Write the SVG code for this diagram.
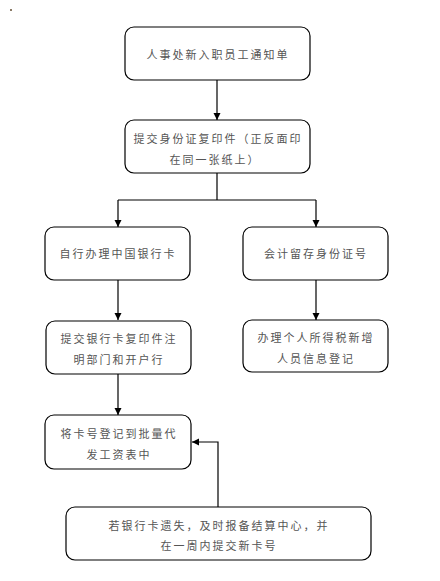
<svg xmlns="http://www.w3.org/2000/svg" width="440" height="581" viewBox="0 0 440 581">
<defs>
<marker id="ah" markerWidth="8" markerHeight="8" refX="7" refY="4" orient="auto" markerUnits="userSpaceOnUse">
<path d="M0,0.5 L7,4 L0,7.5 Z" fill="#000"/>
</marker>
<style>
.box{fill:#fff;stroke:#000;stroke-width:1.2}
.t{font-family:"Noto Sans CJK SC","Noto Sans",sans-serif;font-size:11px;fill:#555;letter-spacing:2px;text-anchor:middle}
.c{fill:none;stroke:#000;stroke-width:1.2}
</style>
</defs>
<rect x="10" y="9" width="2" height="2" fill="#8a7a66"/>
<g id="connectors">
<path class="c" d="M217,80 V120" marker-end="url(#ah)"/>
<path class="c" d="M217,173 V200 M118,200 H316"/>
<path class="c" d="M118,200 V227" marker-end="url(#ah)"/>
<path class="c" d="M316,200 V227" marker-end="url(#ah)"/>
<path class="c" d="M118,280 V320" marker-end="url(#ah)"/>
<path class="c" d="M316,280 V320" marker-end="url(#ah)"/>
<path class="c" d="M118,374 V415" marker-end="url(#ah)"/>
<path class="c" d="M218,507 V442 H192" marker-end="url(#ah)"/>
</g>
<g id="n1">
<rect class="box" x="125" y="27" width="185" height="53" rx="9"/>
<text class="t" x="218" y="59">人事处新入职员工通知单</text>
</g>
<g id="n2">
<rect class="box" x="125" y="120" width="185" height="53" rx="9"/>
<text class="t" x="218" y="143">提交身份证复印件（正反面印</text>
<text class="t" x="215" y="164">在同一张纸上）</text>
</g>
<g id="n3">
<rect class="box" x="45" y="227" width="145" height="53" rx="9"/>
<text class="t" x="118" y="258">自行办理中国银行卡</text>
</g>
<g id="n4">
<rect class="box" x="243" y="227" width="145" height="53" rx="9"/>
<text class="t" x="316" y="258">会计留存身份证号</text>
</g>
<g id="n5">
<rect class="box" x="46" y="321" width="145" height="53" rx="9"/>
<text class="t" x="119" y="343">提交银行卡复印件注</text>
<text class="t" x="119" y="364">明部门和开户行</text>
</g>
<g id="n6">
<rect class="box" x="243" y="320" width="145" height="52" rx="9"/>
<text class="t" x="316" y="342">办理个人所得税新增</text>
<text class="t" x="316" y="363">人员信息登记</text>
</g>
<g id="n7">
<rect class="box" x="45" y="415" width="146" height="54" rx="9"/>
<text class="t" x="119" y="438">将卡号登记到批量代</text>
<text class="t" x="119" y="459">发工资表中</text>
</g>
<g id="n8">
<rect class="box" x="66" y="507" width="305" height="53" rx="9"/>
<text class="t" x="219" y="530">若银行卡遗失，及时报备结算中心，并</text>
<text class="t" x="219" y="550">在一周内提交新卡号</text>
</g>
</svg>
